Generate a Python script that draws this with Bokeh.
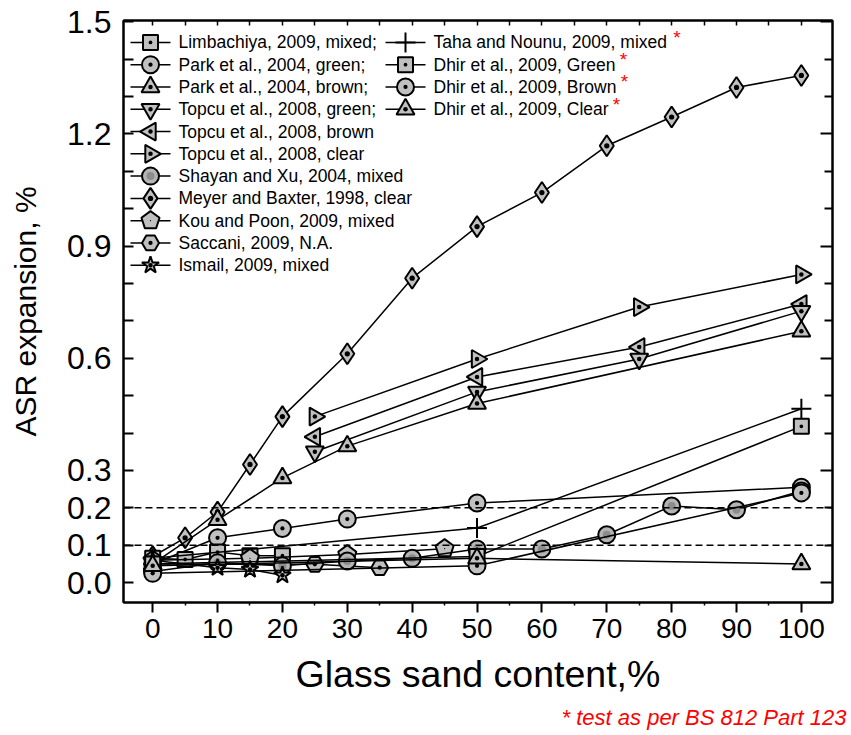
import numpy as np
from bokeh.plotting import figure
from bokeh.models import (Span, FixedTicker, LinearAxis, Title, Range1d, PrintfTickFormatter)
from bokeh.core.properties import value
from bokeh.embed import file_html
from bokeh.resources import INLINE

# ---------------- data ----------------
limb_x = [0, 5, 10, 15, 20]
limb_y = [0.065, 0.062, 0.082, 0.072, 0.072]

taha_x = [0, 50, 100]
taha_y = [0.065, 0.146, 0.465]

parkg_x = [0, 10, 20, 30, 50, 100]
parkg_y = [0.05, 0.12, 0.145, 0.17, 0.213, 0.255]

parkb_x = [0, 10, 20, 30, 50, 100]
parkb_y = [0.05, 0.168, 0.28, 0.365, 0.479, 0.672]

topg_x = [25, 50, 75, 100]
topg_y = [0.35, 0.51, 0.598, 0.726]

topb_x = [25, 50, 75, 100]
topb_y = [0.39, 0.55, 0.63, 0.745]

topc_x = [25, 50, 75, 100]
topc_y = [0.444, 0.598, 0.737, 0.824]

shay_x = [0, 10, 20, 30, 40, 50, 60, 70, 80, 90, 100]
shay_y = [0.03, 0.053, 0.045, 0.058, 0.065, 0.09, 0.09, 0.128, 0.205, 0.195, 0.245]

meyer_x = [0, 5, 10, 15, 20, 30, 40, 50, 60, 70, 80, 90, 100]
meyer_y = [0.07, 0.12, 0.189, 0.316, 0.444, 0.612, 0.814, 0.952, 1.043, 1.168, 1.245, 1.324, 1.356]

kou_x = [0, 15, 30, 45]
kou_y = [0.06, 0.065, 0.075, 0.091]

sacc_x = [0, 25, 35]
sacc_y = [0.05, 0.049, 0.04]

ism_x = [0, 10, 15, 20]
ism_y = [0.06, 0.04, 0.035, 0.02]

dhirg_x = [0, 50, 100]
dhirg_y = [0.05, 0.07, 0.418]

dhirb_x = [0, 50, 100]
dhirb_y = [0.025, 0.045, 0.24]

dhirc_x = [0, 50, 100]
dhirc_y = [0.045, 0.065, 0.05]

x_ticks = [0, 10, 20, 30, 40, 50, 60, 70, 80, 90, 100]
x_minor = [5, 15, 25, 35, 45, 55, 65, 75, 85, 95]
top_ticks = [0, 5, 10, 15, 20, 25, 30, 35, 40, 45, 50, 55, 60, 65, 70, 75, 80, 85, 90, 95, 100]
y_ticks = [0.0, 0.1, 0.2, 0.3, 0.6, 0.9, 1.2, 1.5]
y_minor = [0.4, 0.5, 0.7, 0.8, 1.0, 1.1, 1.3, 1.4]
thresholds = [0.1, 0.2]

col1_keys = ["limb", "parkg", "parkb", "topg", "topb", "topc", "shay", "meyer", "kou", "sacc", "ism"]
col1_labels = ["Limbachiya, 2009, mixed;", "Park et al., 2004, green;", "Park et al., 2004, brown;",
               "Topcu et al., 2008, green;", "Topcu et al., 2008, brown", "Topcu et al., 2008, clear",
               "Shayan and Xu, 2004, mixed", "Meyer and Baxter, 1998, clear", "Kou and Poon, 2009, mixed",
               "Saccani, 2009, N.A.", "Ismail, 2009, mixed"]
col2_keys = ["taha", "dhirg", "dhirb", "dhirc"]
col2_labels = ["Taha and Nounu, 2009, mixed", "Dhir et al., 2009, Green", "Dhir et al., 2009, Brown",
               "Dhir et al., 2009, Clear"]
footnote = "* test as per BS 812 Part 123"

FONT = "Liberation Sans"
FILL = "#c0c0c0"

# frame placement (page pixels)
F_LEFT, F_RIGHT, F_TOP, F_BOTTOM = 123, 832, 20, 605
W, H = 850, 734

p = figure(width=W, height=H, x_range=Range1d(-4.5, 104.8), y_range=Range1d(-0.053, 1.503),
           output_backend="svg", toolbar_location=None,
           min_border_left=F_LEFT, min_border_right=W - F_RIGHT,
           min_border_top=F_TOP, min_border_bottom=H - F_BOTTOM)
# pixel-space ranges used only for placing the legend block
p.extra_x_ranges = {"px": Range1d(F_LEFT, F_RIGHT)}
p.extra_y_ranges = {"py": Range1d(F_BOTTOM, F_TOP)}
p.grid.visible = False
p.outline_line_color = "black"
p.outline_line_width = 2
p.background_fill_color = "white"
p.border_fill_color = "white"

# bottom axis
xa = p.xaxis[0]
xa.ticker = FixedTicker(ticks=x_ticks, minor_ticks=x_minor)
xa.major_tick_out = 10
xa.major_tick_in = 0
xa.minor_tick_out = 3
xa.minor_tick_in = 0
xa.axis_line_width = 2
xa.major_tick_line_width = 2
xa.minor_tick_line_width = 1.5
xa.major_label_text_font = FONT
xa.major_label_text_font_size = "28px"
xa.major_label_text_color = "black"
xa.major_label_standoff = 6
xa.axis_label = "Glass sand content,%"
xa.axis_label_text_font = FONT
xa.axis_label_text_font_size = "37.5px"
xa.axis_label_text_font_style = "normal"
xa.axis_label_text_color = "black"
xa.axis_label_standoff = 12

# left axis
ya = p.yaxis[0]
ya.ticker = FixedTicker(ticks=y_ticks, minor_ticks=y_minor)
ya.formatter = PrintfTickFormatter(format="%.1f")
ya.major_tick_out = 0
ya.major_tick_in = 10
ya.minor_tick_out = 0
ya.minor_tick_in = 10
ya.axis_line_width = 2
ya.major_tick_line_width = 2
ya.minor_tick_line_width = 2
ya.major_label_text_font = FONT
ya.major_label_text_font_size = "32px"
ya.major_label_text_color = "black"
ya.major_label_standoff = 12
ya.axis_label = "ASR expansion, %"
ya.axis_label_text_font = FONT
ya.axis_label_text_font_size = "30px"
ya.axis_label_text_font_style = "normal"
ya.axis_label_text_color = "black"
ya.axis_label_standoff = 22

# right axis (ticks only)
ra = LinearAxis(ticker=FixedTicker(ticks=[0.0, 0.3, 0.6, 0.9, 1.2, 1.5],
                                   minor_ticks=[0.1, 0.2, 0.4, 0.5, 0.7, 0.8, 1.0, 1.1, 1.3, 1.4]),
                major_tick_out=0, major_tick_in=12, minor_tick_out=0, minor_tick_in=8,
                major_label_text_color=None, major_label_text_font_size="1px",
                axis_line_width=2, major_tick_line_width=2, minor_tick_line_width=2,
                major_label_standoff=0)
p.add_layout(ra, "right")

# top axis (ticks only)
ta = LinearAxis(ticker=FixedTicker(ticks=top_ticks), major_tick_out=0, major_tick_in=5,
                minor_tick_out=0, minor_tick_in=0,
                major_label_text_color=None, major_label_text_font_size="1px",
                axis_line_width=2, major_tick_line_width=1.5, major_label_standoff=0)
p.add_layout(ta, "above")

for t in thresholds:
    p.add_layout(Span(location=t, dimension="width", line_color="black",
                      line_width=1.5, line_dash="7 4"))

# marker style of every series
STYLE = {
    "limb": dict(marker="square_dot", size=15),
    "parkg": dict(marker="circle_dot", size=17),
    "parkb": dict(marker="triangle_dot", size=18),
    "topg": dict(marker="triangle_dot", size=18, angle=np.pi),
    "topb": dict(marker="triangle_dot", size=18, angle=np.pi / 2),
    "topc": dict(marker="triangle_dot", size=18, angle=-np.pi / 2),
    "shay": dict(marker="shaded"),
    "meyer": dict(marker="diamond_dot", size=21),
    "kou": dict(marker="pentagon"),
    "sacc": dict(marker="hex_dot", size=17),
    "ism": dict(marker="star_dot", size=18),
    "taha": dict(marker="plus"),
    "dhirg": dict(marker="square_dot", size=15),
    "dhirb": dict(marker="circle_dot", size=17),
    "dhirc": dict(marker="triangle_dot", size=18),
}


def draw_markers(key, x, y, **rng):
    st = STYLE[key]
    m = st["marker"]
    if m == "shaded":
        p.scatter(x, y, marker="circle", size=17, fill_color="#b4b4b4",
                  line_color="black", line_width=2, **rng)
        p.scatter(x, y, marker="circle", size=8, fill_color="#8c8c8c", line_color=None, **rng)
    elif m == "pentagon":
        p.ngon(x=x, y=y, radius=9.5, radius_units="screen", n=5, angle=0.0,
               fill_color=FILL, line_color="black", line_width=2, **rng)
        p.scatter(x, y, marker="dot", size=5, line_color="black", fill_color="black", **rng)
    elif m == "plus":
        p.scatter(x, y, marker="cross", size=20, line_color="black", line_width=2, **rng)
    else:
        p.scatter(x, y, marker=m, size=st["size"], angle=st.get("angle", 0.0), fill_color=FILL,
                  line_color="black", line_width=2, **rng)


def series(key, x, y):
    p.line(x, y, line_color="black", line_width=1.5)
    draw_markers(key, x, y)


series("meyer", meyer_x, meyer_y)
series("topc", topc_x, topc_y)
series("topb", topb_x, topb_y)
series("topg", topg_x, topg_y)
series("parkb", parkb_x, parkb_y)
series("parkg", parkg_x, parkg_y)
series("limb", limb_x, limb_y)
series("kou", kou_x, kou_y)
series("sacc", sacc_x, sacc_y)
series("shay", shay_x, shay_y)
series("ism", ism_x, ism_y)
series("taha", taha_x, taha_y)
series("dhirg", dhirg_x, dhirg_y)
series("dhirb", dhirb_x, dhirb_y)
series("dhirc", dhirc_x, dhirc_y)

# ---------------- legend block (pixel-space placement) ----------------
ROW0, PITCH, KEY_W, STAND, FS = 42, 22.4, 40, 8, 17.5
PX = dict(x_range_name="px", y_range_name="py")


def legend_column(keys, labels, left):
    for i, (k, lab) in enumerate(zip(keys, labels)):
        cy = ROW0 + PITCH * i
        p.segment(x0=[left], y0=[cy], x1=[left + KEY_W], y1=[cy], line_color="black",
                  line_width=1.5, **PX)
        draw_markers(k, [left + KEY_W / 2], [cy], **PX)
    ys = [ROW0 + PITCH * i for i in range(len(labels))]
    p.text(x=[left + KEY_W + STAND] * len(labels), y=ys, text=labels, text_font=value(FONT),
           text_font_size=value(f"{FS}px"), text_color="black", text_baseline="middle",
           text_align="left", **PX)


legend_column(col1_keys, col1_labels, 130)
legend_column(col2_keys, col2_labels, 385)

# red asterisks after the second-column labels (label widths in em, Arial metrics)
col2_em = [13.452, 10.394, 10.449, 10.004]
ast_x = [385 + KEY_W + STAND + em * FS + 8 for em in col2_em]
ast_y = [ROW0 + PITCH * i - 5 for i in range(len(col2_em))]
p.text(x=ast_x, y=ast_y, text=["*"] * len(ast_x), text_font=value(FONT),
       text_font_size=value("19px"), text_color="red", text_baseline="middle",
       text_align="center", **PX)

p.add_layout(Title(text=footnote, align="right", text_color="red", text_font=FONT,
                   text_font_style="italic", text_font_size="22px", offset=-14), "below")

open("out.html", "w").write(file_html(p, INLINE))
